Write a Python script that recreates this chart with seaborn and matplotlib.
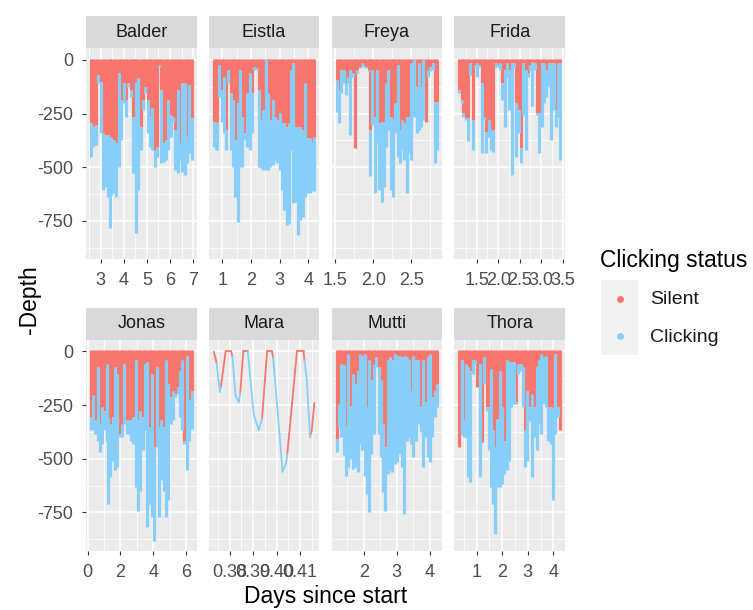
import matplotlib
matplotlib.use("Agg")
import numpy as np
import pandas as pd
import seaborn as sns
import matplotlib.pyplot as plt
from matplotlib.patches import Rectangle
from matplotlib.ticker import FixedLocator, FormatStrFormatter

sns.set_theme(style="darkgrid")
plt.rcParams["font.family"] = ["Liberation Sans", "DejaVu Sans"]
plt.rcParams["axes.unicode_minus"] = False

# Dive summaries per whale: time (days since start), depth reached while
# silent (m) and deepest point of the dive (m, clicking below the silent part)
balder_t = [2.59, 2.69, 2.79, 2.91, 3.01, 3.11, 3.21, 3.31, 3.39, 3.47, 3.57, 3.69, 3.79, 3.89, 4.00,
            4.10, 4.20, 4.30, 4.40, 4.47, 4.54, 4.63, 4.73, 4.83, 4.94, 5.04, 5.14, 5.24, 5.34, 5.44,
            5.54, 5.63, 5.73, 5.83, 5.93, 6.03, 6.13, 6.23, 6.33, 6.43, 6.53, 6.63, 6.73, 6.83, 6.93]
balder_silent = [295, 311, 303, 70, 101, 342, 349, 349, 357, 365, 373, 388, 62, 186, 109,
                 186, 109, 140, 264, 528, 101, 85, 311, 186, 124, 186, 264, 225, 419, 404,
                 23, 140, 388, 373, 186, 256, 264, 326, 140, 388, 109, 109, 357, 116, 272]
balder_deep = [450, 404, 396, 109, 342, 606, 590, 637, 784, 629, 621, 637, 497, 373, 202,
               264, 124, 171, 528, 528, 808, 606, 419, 233, 155, 342, 404, 419, 497, 450,
               31, 481, 474, 466, 419, 357, 287, 512, 528, 466, 520, 536, 481, 435, 466]

eistla_t = [0.70, 0.76, 0.82, 0.89, 0.97, 1.05, 1.13, 1.21, 1.29, 1.37, 1.45, 1.54, 1.62, 1.70, 1.78,
            1.87, 1.95, 2.03, 2.11, 2.19, 2.27, 2.35, 2.43, 2.51, 2.59, 2.67, 2.75, 2.83, 2.92, 3.00,
            3.08, 3.16, 3.24, 3.32, 3.40, 3.48, 3.56, 3.64, 3.72, 3.80, 3.88, 3.96, 4.05, 4.13, 4.21]
eistla_silent = [287, 295, 287, 23, 140, 78, 326, 47, 155, 186, 373, 202, 47, 264, 342,
                 155, 62, 155, 31, 39, 140, 280, 233, 0, 155, 280, 186, 264, 280, 248,
                 295, 295, 311, 295, 47, 16, 311, 311, 311, 326, 109, 365, 365, 388, 357]
eistla_deep = [404, 419, 419, 171, 287, 342, 419, 109, 419, 497, 637, 753, 497, 497, 373,
               404, 419, 342, 47, 47, 497, 505, 512, 512, 512, 497, 489, 466, 481, 512,
               606, 699, 769, 761, 419, 668, 660, 815, 745, 730, 637, 621, 621, 613, 613]

freya_t = [1.52, 1.55, 1.58, 1.61, 1.64, 1.67, 1.70, 1.73, 1.76, 1.79, 1.82, 1.85, 1.88, 1.91, 1.94,
           1.96, 1.99, 2.02, 2.05, 2.08, 2.11, 2.14, 2.17, 2.20, 2.23, 2.26, 2.29, 2.32, 2.35, 2.38,
           2.41, 2.44, 2.47, 2.50, 2.54, 2.57, 2.60, 2.63, 2.66, 2.69, 2.72, 2.75, 2.78, 2.81, 2.84]
freya_silent = [93, 140, 47, 47, 109, 78, 47, 62, 411, 47, 31, 16, 23, 31, 47,
                326, 47, 264, 47, 295, 287, 287, 109, 47, 264, 280, 202, 23, 326, 280,
                295, 264, 264, 16, 0, 124, 16, 124, 0, 287, 47, 31, 16, 194, 194]
freya_deep = [241, 295, 155, 109, 163, 109, 349, 78, 411, 62, 39, 23, 31, 39, 54,
              543, 303, 621, 388, 606, 660, 590, 404, 326, 606, 637, 342, 450, 481, 419,
              466, 621, 435, 466, 264, 342, 326, 311, 280, 287, 78, 54, 47, 481, 419]

frida_t = [1.10, 1.15, 1.19, 1.25, 1.30, 1.35, 1.41, 1.45, 1.51, 1.56, 1.62, 1.67, 1.72, 1.78, 1.83,
           1.89, 1.94, 1.99, 2.05, 2.10, 2.15, 2.21, 2.26, 2.32, 2.37, 2.42, 2.48, 2.53, 2.58, 2.64,
           2.69, 2.75, 2.80, 2.85, 2.91, 2.96, 3.02, 3.07, 3.12, 3.18, 3.23, 3.29, 3.34, 3.39, 3.44]
frida_silent = [140, 186, 248, 272, 272, 16, 280, 23, 16, 23, 109, 264, 334, 280, 326,
                326, 16, 23, 16, 109, 47, 16, 47, 16, 16, 202, 233, 411, 16, 47,
                62, 23, 8, 16, 248, 248, 16, 16, 47, 16, 16, 16, 233, 16, 16]
frida_deep = [155, 202, 264, 280, 380, 70, 419, 31, 78, 31, 435, 280, 435, 357, 419,
              427, 31, 31, 47, 186, 311, 78, 233, 536, 31, 450, 342, 481, 256, 419,
              78, 47, 217, 47, 256, 435, 311, 202, 171, 124, 373, 233, 311, 264, 466]

jonas_t = [0.20, 0.32, 0.47, 0.61, 0.75, 0.89, 1.03, 1.17, 1.26, 1.38, 1.52, 1.66, 1.80, 1.94, 2.09,
           2.23, 2.37, 2.51, 2.65, 2.79, 2.94, 3.08, 3.22, 3.36, 3.50, 3.64, 3.79, 3.93, 4.07, 4.21,
           4.35, 4.49, 4.64, 4.78, 4.92, 5.06, 5.20, 5.34, 5.49, 5.63, 5.77, 5.91, 6.05, 6.19, 6.34]
jonas_silent = [306, 205, 321, 73, 337, 259, 275, 57, 306, 337, 306, 73, 104, 384, 337,
                57, 321, 321, 321, 306, 42, 321, 275, 306, 57, 50, 353, 104, 446, 73,
                353, 321, 353, 42, 151, 213, 182, 197, 166, 89, 42, 415, 19, 228, 182]
jonas_deep = [368, 360, 384, 415, 469, 430, 368, 415, 710, 585, 508, 554, 539, 399, 399,
              337, 384, 384, 415, 430, 632, 741, 648, 461, 368, 818, 710, 772, 881, 446,
              772, 601, 648, 772, 694, 337, 321, 213, 197, 306, 368, 430, 554, 415, 360]

mutti_t = [1.18, 1.25, 1.32, 1.39, 1.46, 1.53, 1.60, 1.68, 1.75, 1.82, 1.89, 1.96, 2.03, 2.10, 2.16,
           2.23, 2.31, 2.38, 2.45, 2.52, 2.59, 2.66, 2.73, 2.80, 2.87, 2.95, 3.02, 3.09, 3.16, 3.23,
           3.30, 3.37, 3.44, 3.51, 3.59, 3.66, 3.73, 3.80, 3.87, 3.94, 4.01, 4.08, 4.15, 4.23]
mutti_silent = [407, 244, 57, 65, 345, 11, 252, 104, 151, 89, 11, 19, 11, 259, 42,
                135, 65, 27, 73, 135, 337, 446, 42, 27, 42, 11, 19, 19, 27, 19,
                27, 42, 182, 19, 42, 42, 259, 42, 236, 27, 11, 213, 182, 151]
mutti_deep = [469, 352, 399, 484, 578, 539, 500, 547, 539, 562, 430, 461, 578, 663, 748,
              477, 384, 73, 384, 492, 655, 741, 570, 554, 562, 523, 516, 477, 539, 756,
              415, 399, 430, 492, 415, 337, 376, 539, 399, 492, 516, 399, 306, 259]

thora_t = [0.33, 0.41, 0.50, 0.59, 0.68, 0.76, 0.85, 0.94, 1.03, 1.12, 1.21, 1.30, 1.39, 1.48, 1.57,
           1.66, 1.72, 1.81, 1.90, 2.00, 2.09, 2.18, 2.27, 2.36, 2.45, 2.54, 2.63, 2.72, 2.81, 2.90,
           2.99, 3.08, 3.17, 3.26, 3.35, 3.44, 3.53, 3.62, 3.71, 3.80, 3.89, 3.98, 4.08, 4.17, 4.26]
thora_silent = [446, 42, 321, 57, 73, 89, 42, 42, 166, 57, 422, 27, 259, 259, 81,
                368, 446, 314, 89, 259, 415, 42, 50, 50, 50, 236, 57, 57, 73, 368,
                182, 259, 197, 259, 73, 42, 11, 27, 19, 259, 259, 267, 11, 259, 368]
thora_deep = [446, 391, 399, 399, 585, 609, 104, 57, 166, 585, 422, 151, 275, 461, 632,
              710, 850, 632, 632, 616, 570, 554, 508, 259, 244, 244, 104, 89, 259, 539,
              508, 322, 585, 399, 461, 337, 384, 244, 259, 415, 430, 694, 384, 306, 368]

# Mara: a short depth trace (days, depth in m, clicking status of each leg)
mara_t = [0.3733, 0.3745, 0.3758, 0.3763, 0.3783, 0.3807, 0.3812, 0.3825, 0.3839, 0.3845,
          0.3858, 0.3877, 0.3903, 0.3924, 0.3938, 0.3959, 0.3980, 0.3985, 0.4025, 0.4040,
          0.4045, 0.4086, 0.4114, 0.4118, 0.4128, 0.4142, 0.4149, 0.4160]
mara_depth = [0, 55, 188, 165, 0, 0, 25, 205, 235, 195,
              0, 0, 297, 367, 311, 0, 0, 30, 560, 520,
              480, 0, 0, 40, 135, 398, 367, 240]
mara_status = ["Silent", "Clicking", "Clicking", "Silent", "Silent", "Silent", "Clicking", "Clicking",
               "Clicking", "Silent", "Silent", "Clicking", "Clicking", "Clicking", "Silent", "Silent",
               "Silent", "Clicking", "Clicking", "Clicking", "Silent", "Silent", "Silent", "Clicking",
               "Clicking", "Silent", "Silent", "Silent"]

whales = ["Balder", "Eistla", "Freya", "Frida", "Jonas", "Mara", "Mutti", "Thora"]
status_levels = ["Silent", "Clicking"]

# axis breaks per panel: (major ticks, label format, minor gridlines)
x_breaks = {
    "Balder": ([3, 4, 5, 6, 7], "%d", [2.5, 3.5, 4.5, 5.5, 6.5]),
    "Eistla": ([1, 2, 3, 4], "%d", [0.5, 1.5, 2.5, 3.5]),
    "Freya": ([1.5, 2.0, 2.5], "%.1f", [1.75, 2.25, 2.75]),
    "Frida": ([1.5, 2.0, 2.5, 3.0, 3.5], "%.1f", [1.25, 1.75, 2.25, 2.75, 3.25]),
    "Jonas": ([0, 2, 4, 6], "%d", [1, 3, 5]),
    "Mara": ([0.38, 0.39, 0.40, 0.41], "%.2f", [0.375, 0.385, 0.395, 0.405, 0.415]),
    "Mutti": ([2, 3, 4], "%d", [1.5, 2.5, 3.5]),
    "Thora": ([1, 2, 3, 4], "%d", [0.5, 1.5, 2.5, 3.5]),
}
y_major = [0, -250, -500, -750]
y_minor = [-125, -375, -625, -875]

RED = "#F8766D"
BLUE = "#87CEFA"
palette = {"Silent": RED, "Clicking": BLUE}
BAR_W = 2.3

series = {
    "Balder": (balder_t, balder_silent, balder_deep),
    "Eistla": (eistla_t, eistla_silent, eistla_deep),
    "Freya": (freya_t, freya_silent, freya_deep),
    "Frida": (frida_t, frida_silent, frida_deep),
    "Jonas": (jonas_t, jonas_silent, jonas_deep),
    "Mutti": (mutti_t, mutti_silent, mutti_deep),
    "Thora": (thora_t, thora_silent, thora_deep),
}
rows = []
for name, (t, s, d) in series.items():
    for ti, si, di in zip(t, s, d):
        rows.append((name, ti, si, di))
dives = pd.DataFrame(rows, columns=["whale", "days", "silent", "deepest"])

# Mara trace as two-point legs so every leg keeps its own colour
legs = []
for i in range(len(mara_t) - 1):
    for j in (i, i + 1):
        legs.append((i, mara_t[j], -mara_depth[j], mara_status[i]))
mara = pd.DataFrame(legs, columns=["leg", "days", "depth", "status"])


def draw_dives(data, **kws):
    ax = plt.gca()
    ax.vlines(data["days"], -data["silent"], 6, color=RED, lw=BAR_W, capstyle="butt")
    ax.vlines(data["days"], -data["deepest"], -data["silent"], color=BLUE, lw=BAR_W,
              capstyle="butt")


g = sns.FacetGrid(dives, col="whale", col_wrap=4, col_order=whales, sharex=False,
                  sharey=True, height=2.0, aspect=1.0, despine=False)
g.map_dataframe(draw_dives)
sns.lineplot(data=mara, x="days", y="depth", hue="status", units="leg", estimator=None,
             palette=palette, legend=False, lw=1.3, ax=g.axes_dict["Mara"])

fig = g.figure
fig.set_size_inches(7.53, 6.10)
fig.set_dpi(100)
fig.subplots_adjust(left=86 / 753, right=565 / 753, top=1 - 48.3 / 610,
                    bottom=1 - 550.7 / 610, wspace=0.111, hspace=0.383)

TICK_FS = 13
strip_h = 32 / 211
for i, name in enumerate(whales):
    ax = g.axes_dict[name]
    ax.set_title("")
    ax.set_xlabel("")
    ax.set_ylabel("")
    ax.set_facecolor("#EBEBEB")
    for sp in ax.spines.values():
        sp.set_visible(False)
    ax.set_axisbelow(True)
    ax.set_ylim(-928, 54)
    major, fmt, minor = x_breaks[name]
    ax.xaxis.set_major_locator(FixedLocator(major))
    ax.xaxis.set_major_formatter(FormatStrFormatter(fmt))
    ax.xaxis.set_minor_locator(FixedLocator(minor))
    ax.yaxis.set_major_locator(FixedLocator(y_major))
    ax.yaxis.set_major_formatter(FormatStrFormatter("%d"))
    ax.yaxis.set_minor_locator(FixedLocator(y_minor))
    ax.grid(which="major", color="white", lw=1.1)
    ax.grid(which="minor", color="white", lw=0.55)
    ax.tick_params(which="major", length=3, width=0.8, color="#333333", labelsize=TICK_FS,
                   labelcolor="#4D4D4D", labelbottom=True, bottom=True)
    ax.tick_params(axis="x", which="major", pad=6.5)
    ax.tick_params(axis="y", which="major", pad=6)
    ax.tick_params(which="minor", length=0)
    if i % 4 != 0:
        ax.tick_params(axis="y", length=0, labelleft=False)
    else:
        ax.tick_params(axis="y", labelleft=True, left=True)
    ax.add_patch(Rectangle((0, 1), 1, strip_h, transform=ax.transAxes, clip_on=False,
                           facecolor="#D9D9D9", edgecolor="none"))
    ax.text(0.5, 1 + strip_h / 2, name, transform=ax.transAxes, ha="center", va="center",
            fontsize=13, color="#1A1A1A")

fig.text(325.5 / 753, 1 - 597 / 610, "Days since start", ha="center", va="center",
         fontsize=16.5, color="black")
fig.text(30 / 753, 1 - 300 / 610, "-Depth", ha="center", va="center", rotation=90,
         fontsize=16.5, color="black")

# legend
fig.text(600 / 753, 1 - 260 / 610, "Clicking status", ha="left", va="center",
         fontsize=16.5, color="black")
kax = fig.add_axes([600.7 / 753, 1 - 355 / 610, 37.6 / 753, 75 / 610])
kax.set_facecolor("#F2F2F2")
kax.grid(False)
for sp in kax.spines.values():
    sp.set_visible(False)
kax.set_xticks([])
kax.set_yticks([])
kax.set_xlim(0, 1)
kax.set_ylim(0, 1)
for k, level in enumerate(status_levels):
    y = 0.75 - 0.5 * k
    kax.plot([0.5], [y], "o", color=palette[level], ms=5, mec="none")
    fig.text(650 / 753, 1 - (300 + 37 * k) / 610, level, ha="left", va="center",
             fontsize=14, color="#1A1A1A")

fig.savefig("out.png", dpi=100)
